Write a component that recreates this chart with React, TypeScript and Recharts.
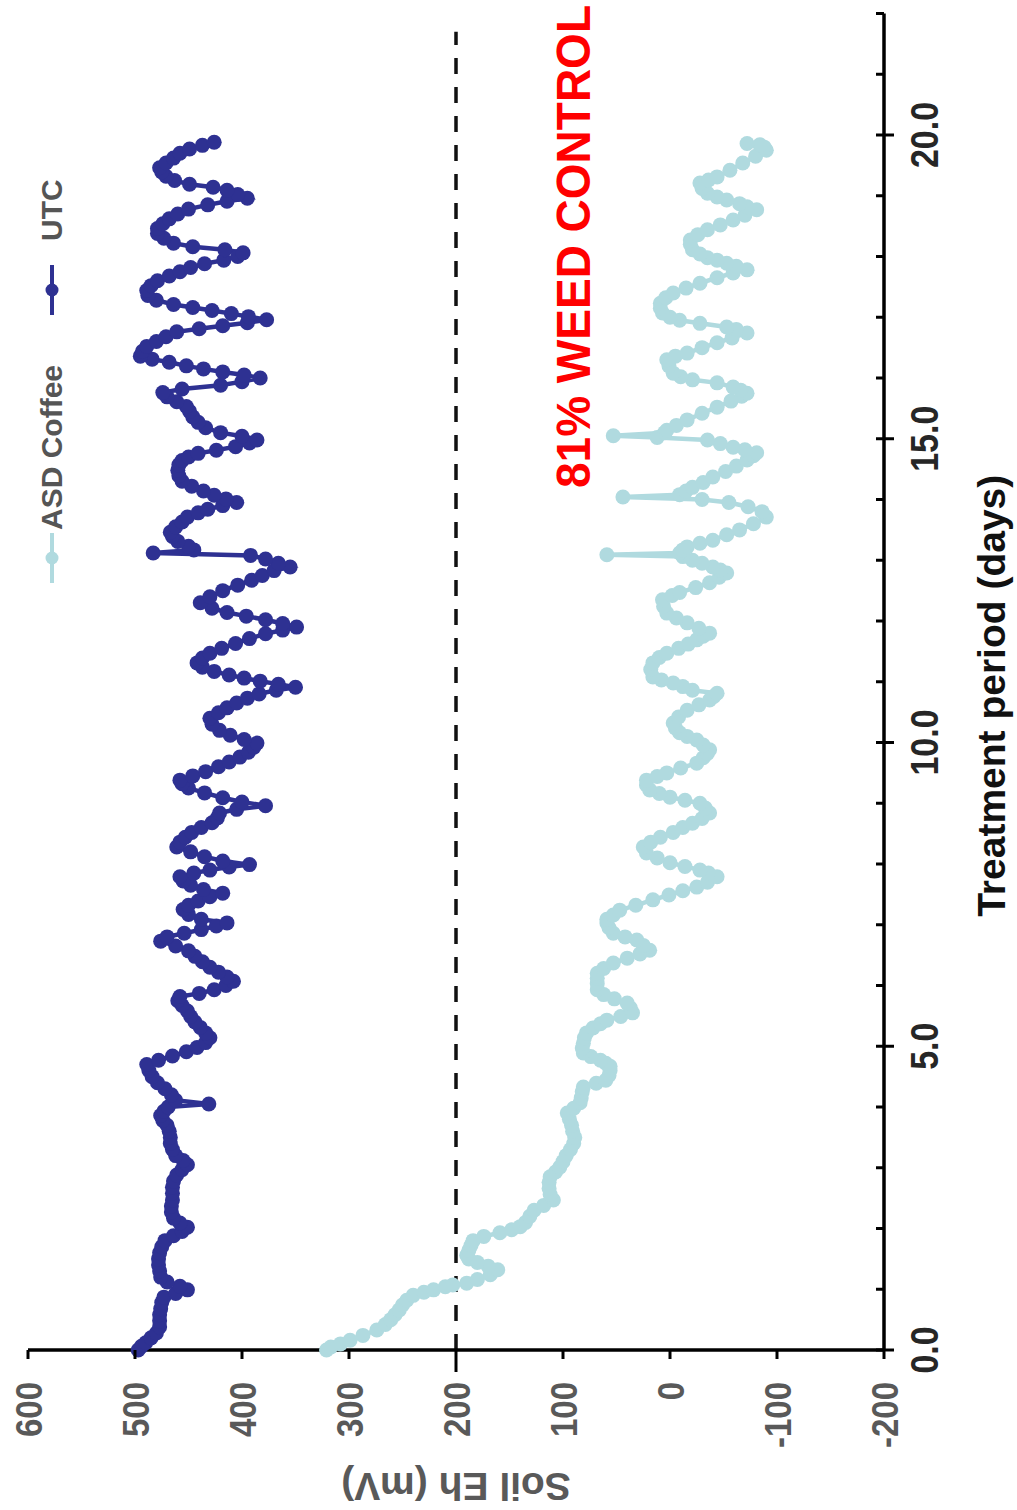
import React from 'react';
import { LineChart, Line, XAxis, YAxis, ReferenceLine, ReferenceDot, Legend, Label } from 'recharts';

const FONT = '"Liberation Sans", Arial, Helvetica, sans-serif';

// Soil Eh readings (mV) over the treatment period, as [day, Eh] pairs
const asdReadings: [number, number][] = [
    [0.0, 321], [0.05, 317], [0.1, 308], [0.16, 299], [0.24, 287], [0.33, 274], [0.42, 266], [0.5, 261],
    [0.58, 257], [0.66, 253], [0.74, 250], [0.82, 246], [0.9, 240], [0.95, 230], [0.99, 221], [1.04, 210],
    [1.07, 203], [1.1, 190], [1.16, 180], [1.24, 168], [1.32, 161], [1.38, 170], [1.44, 180], [1.5, 188],
    [1.56, 190], [1.64, 188], [1.72, 186], [1.8, 184], [1.87, 174], [1.93, 159], [1.98, 148], [2.03, 140],
    [2.1, 135], [2.2, 131], [2.3, 127], [2.38, 118], [2.47, 109], [2.56, 112], [2.66, 113], [2.76, 113],
    [2.85, 112], [2.93, 107], [3.01, 103], [3.1, 100], [3.2, 97], [3.3, 93], [3.4, 90], [3.5, 89],
    [3.6, 91], [3.7, 92], [3.8, 94], [3.9, 96], [3.98, 90], [4.07, 84], [4.15, 83], [4.25, 82],
    [4.33, 81], [4.39, 69], [4.44, 60], [4.52, 57], [4.6, 56], [4.67, 56], [4.72, 60], [4.77, 65],
    [4.83, 74], [4.89, 81], [4.97, 82], [5.05, 81], [5.14, 80], [5.22, 78], [5.3, 72], [5.37, 65],
    [5.43, 59], [5.49, 46], [5.55, 35], [5.63, 37], [5.71, 40], [5.78, 52], [5.85, 62], [5.93, 68],
    [6.03, 68], [6.12, 68], [6.2, 68], [6.28, 62], [6.37, 53], [6.45, 40], [6.52, 28], [6.58, 19],
    [6.66, 25], [6.75, 31], [6.8, 42], [6.86, 53], [6.95, 57], [7.03, 59], [7.09, 59], [7.16, 53],
    [7.24, 47], [7.32, 32], [7.41, 16], [7.49, 1], [7.56, -12], [7.62, -25], [7.7, -35], [7.79, -44],
    [7.85, -36], [7.9, -28], [7.96, -14], [8.02, 0], [8.1, 12], [8.18, 22], [8.28, 25], [8.36, 18],
    [8.44, 9], [8.52, -3], [8.6, -12], [8.67, -21], [8.75, -30], [8.84, -37], [8.92, -33], [9.0, -28],
    [9.05, -14], [9.1, 0], [9.16, 10], [9.22, 19], [9.3, 22], [9.38, 22], [9.44, 12], [9.5, 3],
    [9.58, -10], [9.66, -25], [9.75, -31], [9.82, -35], [9.88, -37], [9.96, -31], [10.04, -25], [10.1, -16],
    [10.16, -9], [10.24, -5], [10.32, -3], [10.42, -8], [10.53, -16], [10.62, -27], [10.7, -37], [10.76, -41],
    [10.81, -44], [10.86, -21], [10.92, -12], [10.98, -3], [11.03, 8], [11.08, 16], [11.2, 18], [11.31, 16],
    [11.4, 10], [11.47, 3], [11.55, -8], [11.62, -17], [11.69, -25], [11.75, -31], [11.8, -37], [11.88, -27],
    [11.97, -16], [12.05, -6], [12.13, 3], [12.24, 6], [12.35, 7], [12.42, -2], [12.47, -9], [12.55, -24],
    [12.63, -37], [12.72, -46], [12.79, -53], [12.84, -47], [12.89, -40], [12.95, -30], [13.0, -21], [13.06, -12],
    [13.09, 59], [13.12, -9], [13.17, -12], [13.22, -16], [13.28, -28], [13.33, -40], [13.42, -53], [13.5, -65],
    [13.6, -78], [13.71, -90], [13.8, -86], [13.88, -73], [13.95, -55], [14.0, -30], [14.04, 44], [14.08, -9],
    [14.14, -15], [14.2, -21], [14.28, -31], [14.37, -40], [14.46, -52], [14.55, -62], [14.65, -72], [14.72, -78],
    [14.77, -81], [14.82, -70], [14.86, -59], [14.92, -47], [14.98, -35], [15.02, 12], [15.05, 53], [15.1, 5],
    [15.14, 3], [15.22, -6], [15.31, -16], [15.42, -30], [15.52, -44], [15.62, -57], [15.7, -67], [15.75, -72],
    [15.8, -66], [15.85, -59], [15.92, -44], [15.97, -21], [16.02, -10], [16.08, -3], [16.2, 1], [16.3, 3],
    [16.36, -5], [16.41, -16], [16.5, -30], [16.58, -44], [16.66, -58], [16.74, -72], [16.8, -62], [16.84, -53],
    [16.9, -28], [16.95, -9], [17.0, 0], [17.07, 7], [17.15, 9], [17.23, 9], [17.32, 4], [17.4, -3],
    [17.48, -15], [17.56, -28], [17.65, -44], [17.73, -59], [17.78, -72], [17.84, -62], [17.89, -53], [17.94, -44],
    [17.98, -35], [18.04, -28], [18.11, -21], [18.2, -19], [18.27, -19], [18.36, -26], [18.44, -35], [18.52, -47],
    [18.6, -59], [18.68, -70], [18.77, -81], [18.82, -72], [18.87, -65], [18.93, -53], [18.98, -44], [19.04, -35],
    [19.12, -30], [19.21, -28], [19.26, -36], [19.31, -44], [19.42, -56], [19.54, -68], [19.65, -80], [19.75, -90],
    [19.8, -88], [19.84, -84], [19.86, -72],
];

const utcReadings: [number, number][] = [
    [0.0, 497], [0.06, 494], [0.12, 490], [0.2, 485], [0.28, 480], [0.38, 477], [0.48, 477], [0.58, 477],
    [0.68, 476], [0.78, 475], [0.87, 473], [0.93, 462], [0.99, 451], [1.05, 458], [1.12, 470], [1.2, 476],
    [1.3, 477], [1.4, 478], [1.5, 478], [1.6, 477], [1.7, 475], [1.8, 472], [1.88, 464], [1.95, 456],
    [2.02, 451], [2.09, 458], [2.17, 464], [2.27, 466], [2.37, 466], [2.47, 465], [2.58, 465], [2.68, 465],
    [2.78, 464], [2.88, 461], [2.97, 456], [3.05, 451], [3.12, 455], [3.2, 462], [3.3, 465], [3.4, 467],
    [3.5, 467], [3.6, 468], [3.7, 470], [3.78, 474], [3.86, 476], [3.93, 473], [4.0, 469], [4.05, 431],
    [4.11, 462], [4.2, 466], [4.3, 472], [4.4, 479], [4.5, 484], [4.6, 487], [4.7, 489], [4.77, 478],
    [4.84, 465], [4.91, 452], [4.98, 442], [5.06, 434], [5.14, 430], [5.22, 434], [5.31, 439], [5.4, 444],
    [5.49, 448], [5.58, 451], [5.67, 456], [5.75, 460], [5.82, 458], [5.87, 440], [5.93, 426], [6.0, 415],
    [6.07, 408], [6.14, 414], [6.22, 422], [6.3, 430], [6.39, 437], [6.48, 444], [6.57, 450], [6.65, 462],
    [6.73, 476], [6.8, 470], [6.86, 454], [6.92, 438], [6.98, 424], [7.03, 414], [7.09, 438], [7.17, 450],
    [7.25, 455], [7.32, 450], [7.39, 441], [7.46, 430], [7.52, 418], [7.58, 436], [7.65, 448], [7.72, 455],
    [7.79, 458], [7.85, 445], [7.9, 430], [7.95, 412], [7.99, 393], [8.05, 418], [8.12, 435], [8.2, 448],
    [8.28, 461], [8.36, 458], [8.44, 453], [8.52, 447], [8.6, 438], [8.68, 428], [8.76, 423], [8.84, 421],
    [8.9, 405], [8.96, 378], [9.02, 400], [9.09, 418], [9.17, 435], [9.25, 450], [9.32, 456], [9.38, 458],
    [9.45, 446], [9.52, 434], [9.6, 422], [9.68, 412], [9.76, 402], [9.84, 394], [9.92, 389], [9.99, 386],
    [10.05, 398], [10.12, 411], [10.2, 421], [10.3, 428], [10.4, 430], [10.49, 422], [10.57, 414], [10.65, 405],
    [10.73, 395], [10.8, 384], [10.86, 368], [10.91, 350], [10.96, 366], [11.01, 383], [11.06, 398], [11.11, 412],
    [11.17, 426], [11.24, 437], [11.31, 442], [11.39, 437], [11.47, 430], [11.55, 419], [11.63, 406], [11.71, 393],
    [11.79, 378], [11.85, 362], [11.9, 349], [11.96, 362], [12.02, 378], [12.08, 396], [12.14, 414], [12.21, 428],
    [12.3, 439], [12.4, 430], [12.5, 418], [12.59, 404], [12.67, 391], [12.75, 381], [12.83, 370], [12.89, 355],
    [12.95, 366], [13.02, 378], [13.08, 392], [13.12, 483], [13.17, 445], [13.23, 450], [13.31, 460], [13.39, 465],
    [13.46, 467], [13.55, 462], [13.63, 456], [13.71, 451], [13.78, 441], [13.84, 432], [13.9, 418], [13.95, 405],
    [14.01, 415], [14.07, 426], [14.14, 436], [14.22, 447], [14.3, 456], [14.39, 459], [14.48, 460], [14.57, 459],
    [14.64, 456], [14.7, 450], [14.76, 441], [14.81, 424], [14.87, 406], [14.93, 393], [14.98, 386], [15.04, 400],
    [15.1, 420], [15.18, 434], [15.27, 441], [15.36, 446], [15.45, 449], [15.53, 452], [15.61, 461], [15.69, 470],
    [15.76, 474], [15.82, 456], [15.88, 420], [15.94, 400], [16.0, 383], [16.05, 398], [16.1, 418], [16.15, 436],
    [16.2, 452], [16.26, 468], [16.31, 484], [16.36, 495], [16.44, 493], [16.52, 489], [16.6, 480], [16.68, 471],
    [16.76, 461], [16.81, 440], [16.86, 418], [16.91, 395], [16.96, 377], [17.01, 394], [17.06, 410], [17.11, 428],
    [17.16, 446], [17.21, 464], [17.28, 480], [17.36, 488], [17.44, 489], [17.52, 485], [17.6, 479], [17.68, 468],
    [17.75, 458], [17.82, 448], [17.88, 435], [17.94, 417], [18.0, 404], [18.06, 399], [18.11, 416], [18.16, 446],
    [18.22, 464], [18.3, 473], [18.38, 479], [18.46, 479], [18.54, 474], [18.62, 468], [18.7, 460], [18.78, 450],
    [18.85, 432], [18.91, 414], [18.96, 395], [19.02, 404], [19.09, 414], [19.14, 427], [19.19, 449], [19.25, 463],
    [19.32, 471], [19.39, 475], [19.46, 477], [19.54, 471], [19.62, 464], [19.7, 458], [19.77, 449], [19.83, 437],
    [19.88, 426],
];

const dayTicks = [0, 1, 2, 3, 4, 5, 6, 7, 8, 9, 10, 11, 12, 13, 14, 15, 16, 17, 18, 19, 20, 21, 22];
const ehTicks = [-200, -100, 0, 100, 200, 300, 400, 500, 600];
const ehThreshold = 200;
const thresholdEndDay = 21.7;
const weedNote = '81% WEED CONTROL';
const weedNoteDay = 14.19;
const weedNoteEh = 75;

const toPoints = (rows: [number, number][]) => rows.map(([day, eh]) => ({ day, eh }));

const series = [
    { name: 'ASD Coffee', color: '#b0dadf', data: toPoints(asdReadings), gap: 3 },
    { name: 'UTC', color: '#2e3192', data: toPoints(utcReadings), gap: 24 },
];

// chart is laid out landscape, then turned a quarter turn to stand upright
const CHART_W = 1510;
const CHART_H = 1017;

const DayTick = ({ x, y, payload }: any) => {
    const v = payload.value;
    const major = v % 5 === 0;
    return (
        <g>
            <line x1={x} x2={x} y1={y - 8} y2={major ? y + 10 : y} stroke="#000" strokeWidth={3} />
            {major && (
                <g transform={`translate(${x},${y + 54}) scale(1,1.15)`}>
                    <text textAnchor="middle" fontFamily={FONT} fontWeight={700} fontSize={34} fill="#262626">
                        {v.toFixed(1)}
                    </text>
                </g>
            )}
        </g>
    );
};

const EhTick = ({ x, y, payload }: any) => {
    const v = payload.value;
    const len = v === ehThreshold ? 22 : 9;
    return (
        <g>
            <line x1={x - len} x2={x} y1={y} y2={y} stroke="#000" strokeWidth={3} />
            <g transform={`translate(${x - 32},${y + 13.5}) scale(1,1.14)`}>
                <text textAnchor="end" fontFamily={FONT} fontWeight={700} fontSize={33} fill="#595959">
                    {v}
                </text>
            </g>
        </g>
    );
};

const LegendContent = () => (
    <div style={{ display: 'flex', alignItems: 'center', whiteSpace: 'nowrap' }}>
        {series.map((s, i) => (
            <div key={s.name} style={{ display: 'flex', alignItems: 'center', marginLeft: i === 0 ? 0 : 50 }}>
                <svg width={50} height={16} style={{ display: 'block' }}>
                    <line x1={0} y1={8} x2={50} y2={8} stroke={s.color} strokeWidth={4} />
                    <circle cx={25} cy={8} r={6.5} fill={s.color} />
                </svg>
                <span
                    style={{
                        marginLeft: s.gap,
                        fontFamily: FONT,
                        fontWeight: 700,
                        fontSize: 30,
                        lineHeight: '30px',
                        color: '#555',
                    }}
                >
                    {s.name}
                </span>
            </div>
        ))}
    </div>
);

export default function App() {
    return (
        <div style={{ position: 'relative', width: CHART_H, height: CHART_W, overflow: 'hidden', background: '#fff' }}>
            <style>{'body { margin: 0; }'}</style>
            <div
                style={{
                    position: 'absolute',
                    left: 0,
                    top: 0,
                    width: CHART_W,
                    height: CHART_H,
                    transformOrigin: '0 0',
                    transform: `translate(0px, ${CHART_W}px) rotate(-90deg)`,
                }}
            >
                <LineChart width={CHART_W} height={CHART_H} margin={{ top: 28, right: 13.5, bottom: 0, left: 0 }}>
                    <XAxis
                        type="number"
                        dataKey="day"
                        domain={[0, 22]}
                        ticks={dayTicks}
                        interval={0}
                        height={133}
                        tickSize={0}
                        tickMargin={0}
                        tickLine={false}
                        axisLine={{ stroke: '#000', strokeWidth: 3.5 }}
                        tick={DayTick}
                    >
                        <Label
                            content={({ viewBox }: any) => (
                                <text
                                    x={viewBox.x + viewBox.width / 2 - 14}
                                    y={viewBox.y + 121}
                                    textAnchor="middle"
                                    fontFamily={FONT}
                                    fontWeight={700}
                                    fontSize={39}
                                    fill="#111"
                                >
                                    Treatment period (days)
                                </text>
                            )}
                        />
                    </XAxis>
                    <YAxis
                        type="number"
                        domain={[-200, 600]}
                        ticks={ehTicks}
                        interval={0}
                        width={160}
                        tickSize={0}
                        tickMargin={0}
                        tickLine={false}
                        axisLine={{ stroke: '#000', strokeWidth: 3.5 }}
                        tick={EhTick}
                    >
                        <Label
                            content={({ viewBox }: any) => {
                                const lx = viewBox.x + 37;
                                const ly = viewBox.y + viewBox.height / 2;
                                return (
                                    <text
                                        x={lx}
                                        y={ly}
                                        transform={`rotate(-90, ${lx}, ${ly})`}
                                        textAnchor="middle"
                                        fontFamily={FONT}
                                        fontWeight={700}
                                        fontSize={39}
                                        fill="#595959"
                                    >
                                        Soil Eh (mV)
                                    </text>
                                );
                            }}
                        />
                    </YAxis>
                    <Legend
                        layout="horizontal"
                        verticalAlign="middle"
                        align="center"
                        wrapperStyle={{ left: 927, top: 37, width: 480 }}
                        content={LegendContent}
                    />
                    {series.map((s) => (
                        <Line
                            key={s.name}
                            data={s.data}
                            dataKey="eh"
                            name={s.name}
                            type="linear"
                            stroke={s.color}
                            strokeWidth={4.5}
                            dot={{ r: 7.5, fill: s.color, stroke: s.color, strokeWidth: 0 }}
                            activeDot={false}
                            isAnimationActive={false}
                        />
                    ))}
                    <ReferenceLine
                        segment={[
                            { x: 0, y: ehThreshold },
                            { x: thresholdEndDay, y: ehThreshold },
                        ]}
                        stroke="#111"
                        strokeWidth={3.5}
                        strokeDasharray="16 13"
                    />
                    <ReferenceDot
                        x={weedNoteDay}
                        y={weedNoteEh}
                        r={0}
                        shape={(p: any) => (
                            <g transform={`translate(${p.cx},${p.cy}) scale(1,1.06)`}>
                                <text fontFamily={FONT} fontWeight={700} fontSize={46} fill="#ff0000">
                                    {weedNote}
                                </text>
                            </g>
                        )}
                    />
                </LineChart>
            </div>
        </div>
    );
}
